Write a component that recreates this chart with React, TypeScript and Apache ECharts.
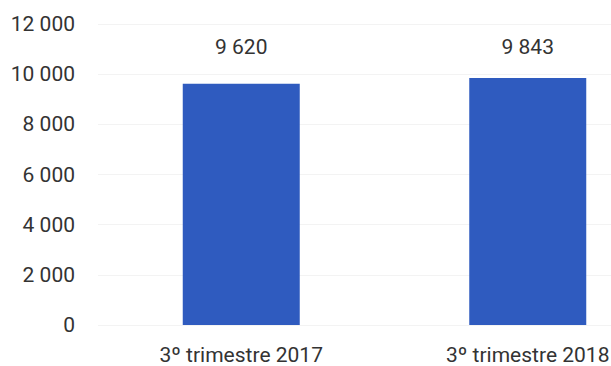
import React, { useEffect, useRef } from "react";
import * as echarts from "echarts";

const categories = ["3º trimestre 2017", "3º trimestre 2018"];
const values = [9620, 9843];
const yMin = 0;
const yMax = 12000;
const yInterval = 2000;
const labelRowValue = 11080;

const fmt = (v: number) => {
  const s = String(Math.round(v));
  return s.replace(/\B(?=(\d{3})+(?!\d))/g, " ");
};

export default function App() {
  const ref = useRef<HTMLDivElement>(null);
  useEffect(() => {
    if (!ref.current) return;
    const chart = echarts.init(ref.current, null, { renderer: "svg" });
    chart.setOption({
      animation: false,
      backgroundColor: "#ffffff",
      textStyle: { fontFamily: "Roboto" },
      grid: { left: 98, top: 24, width: 573, height: 301, outerBoundsMode: "none", containLabel: false },
      xAxis: {
        type: "category",
        data: categories,
        axisLine: { show: false },
        axisTick: { show: false },
        axisLabel: {
          color: "#333333",
          fontSize: 21,
          fontFamily: "Roboto",
          margin: 19,
        },
      },
      yAxis: {
        type: "value",
        min: yMin,
        max: yMax,
        interval: yInterval,
        axisLine: { show: false },
        axisTick: { show: false },
        splitLine: { lineStyle: { color: "#f3f3f3", width: 1 } },
        axisLabel: {
          color: "#333333",
          fontSize: 21,
          fontFamily: "Roboto",
          margin: 23,
          formatter: (v: number) => fmt(v),
        },
      },
      series: [
        {
          type: "bar",
          data: values,
          barWidth: 117,
          itemStyle: { color: "#2f5bbf" },
        },
        {
          type: "scatter",
          data: values.map(() => labelRowValue),
          symbolSize: 0,
          itemStyle: { color: "#ffffff" },
          silent: true,
          emphasis: { disabled: true },
          label: {
            show: true,
            position: "inside",
            color: "#333333",
            opacity: 1,
            fontSize: 21,
            fontFamily: "Roboto",
            formatter: (p: any) => fmt(values[p.dataIndex]),
          },
        },
      ],
    });
    return () => chart.dispose();
  }, []);
  return <div ref={ref} style={{ width: 611, height: 366, position: "absolute", left: 0, top: 0 }} />;
}
